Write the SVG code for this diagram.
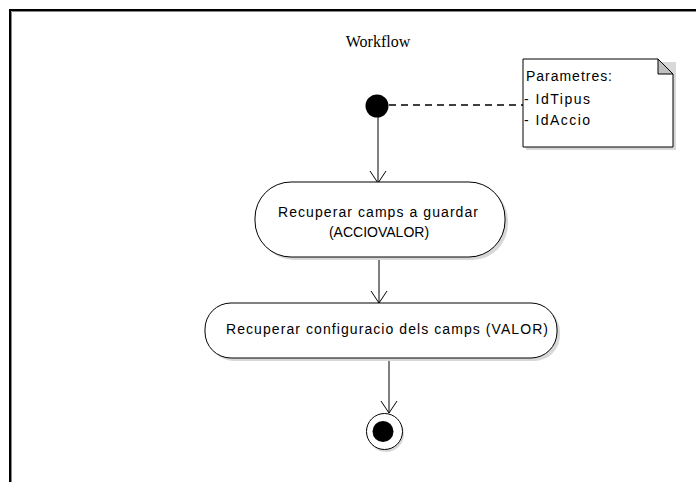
<svg xmlns="http://www.w3.org/2000/svg" width="696" height="482" viewBox="0 0 696 482">
  <style>
    .frame { fill: none; stroke: #000; stroke-width: 2; }
    .title { font-family: "Liberation Serif", "DejaVu Serif", serif; font-size: 16px; fill: #000; }
    .lbl { font-family: "Liberation Sans", "DejaVu Sans", sans-serif; font-size: 14px; fill: #000; }
    .box { fill: #fff; stroke: #000; stroke-width: 1; }
    .shadow { fill: #d8d8d8; }
    .flow { fill: none; stroke: #000; stroke-width: 1; }
    .dash { fill: none; stroke: #000; stroke-width: 1.5; stroke-dasharray: 7 5; }
  </style>
  <defs>
    <!-- open V arrowhead, drawn along +x so orient="auto" follows the line -->
    <marker id="open" markerWidth="20" markerHeight="20" refX="14" refY="10" orient="auto" markerUnits="userSpaceOnUse" viewBox="0 0 20 20">
      <path d="M2,2 L14,10 L2,18" fill="none" stroke="#000" stroke-width="1"/>
    </marker>
  </defs>

  <rect x="0" y="0" width="696" height="482" fill="#fff"/>
  <!-- diagram frame -->
  <path class="frame" d="M10,482 V10 H696"/>
  <path d="M11.5,482 V11.5 H696" fill="none" stroke="#888" stroke-width="1"/>

  <text class="title" x="378" y="47" text-anchor="middle">Workflow</text>

  <g id="connectors">
    <path class="dash" d="M389,105 H523"/>
    <path class="flow" d="M378,117 V183" marker-end="url(#open)"/>
    <path class="flow" d="M379,258 V303" marker-end="url(#open)"/>
    <path class="flow" d="M389,358 V413" marker-end="url(#open)"/>
  </g>

  <g id="start">
    <circle cx="377" cy="106" r="11.5" fill="#000"/>
  </g>

  <g id="note">
    <path class="shadow" d="M526,62 H676 V150 H526 Z"/>
    <path class="box" d="M523,59 H658 L673,74 V147 H523 Z"/>
    <path d="M658,59 L673,74 H658 Z" fill="#c0c0c0" stroke="#000" stroke-width="1"/>
    <text class="lbl" x="526" y="81" textLength="86" lengthAdjust="spacing">Parametres:</text>
    <text class="lbl" x="524" y="104" textLength="66" lengthAdjust="spacing">- IdTipus</text>
    <text class="lbl" x="524" y="125" textLength="66" lengthAdjust="spacing">- IdAccio</text>
  </g>

  <g id="action1">
    <rect class="shadow" x="258" y="185" width="250" height="75" rx="36" ry="36"/>
    <rect class="box" x="255" y="182" width="250" height="75" rx="36" ry="36"/>
    <text class="lbl" x="278" y="217" textLength="200" lengthAdjust="spacing">Recuperar camps a guardar</text>
    <text class="lbl" x="379" y="237" text-anchor="middle">(ACCIOVALOR)</text>
  </g>

  <g id="action2">
    <rect class="shadow" x="208" y="306" width="352" height="55" rx="26" ry="26"/>
    <rect class="box" x="205" y="303" width="352" height="55" rx="26" ry="26"/>
    <text class="lbl" x="226" y="334" textLength="322" lengthAdjust="spacing">Recuperar configuracio dels camps (VALOR)</text>
  </g>

  <g id="end">
    <circle cx="386" cy="434" r="18" class="shadow"/>
    <circle cx="384.5" cy="431.5" r="18" fill="#fff" stroke="#000" stroke-width="1"/>
    <circle cx="383" cy="431.5" r="10.5" fill="#000"/>
  </g>
</svg>
